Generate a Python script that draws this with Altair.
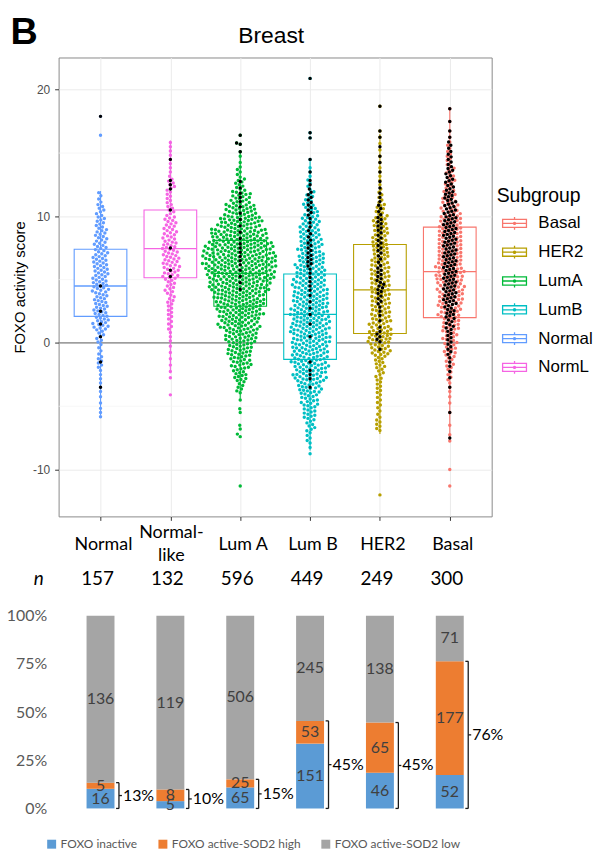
import math
import pandas as pd
import altair as alt

# ---------------- data: top panel (FOXO activity score) ----------------
groups = ["Normal", "NormL", "LumA", "LumB", "HER2", "Basal"]
legend_order = ["Basal", "HER2", "LumA", "LumB", "Normal", "NormL"]
legend_colors = ["#F8766D", "#B79F00", "#00BA38", "#00BFC4", "#619CFF", "#F564E3"]

# lower edges of 1-unit score bins, -13 ... 20
bin_lo = list(range(-13, 21))

# number of samples per score bin, outliers listed separately
cnt_normal = [0,0,0,0,0,0,0,3,2,3,3,6,4,7,14,14,13,15,14,14,12,11,9,7,4,0,0,0,0,0,0,0,0,0]
cnt_norml  = [0,0,0,0,0,0,0,0,0,0,2,2,2,3,5,6,7,9,14,15,14,12,11,7,6,7,3,3,3,0,0,0,0,0]
cnt_luma   = [0,0,0,0,0,0,0,0,1,7,13,18,22,28,34,40,45,52,59,62,58,48,38,27,17,9,5,2,0,0,0,0,0,0]
cnt_lumb   = [0,0,0,0,2,5,8,12,15,21,28,30,31,33,34,33,31,29,26,24,21,19,16,12,8,4,3,1,0,0,0,0,0,0]
cnt_her2   = [0,0,0,0,0,0,6,4,5,6,7,10,17,21,18,17,17,17,17,16,16,14,13,9,5,3,3,2,2,2,0,0,0,0]
cnt_basal  = [0,0,0,0,0,2,1,1,2,3,5,8,11,13,16,19,22,23,24,23,23,21,20,16,13,10,8,6,4,2,1,1,0,0]

# black dots (FOXO active - SOD2 high) per bin
blk_normal = [0,0,0,0,0,0,0,0,0,1,0,1,0,1,1,1,0,1,0,0,0,0,0,0,0,0,0,0,0,0,0,0,0,0]
blk_norml  = [0,0,0,0,0,0,0,0,0,0,0,0,0,0,0,0,0,0,2,0,1,0,0,1,0,3,0,1,0,0,0,0,0,0]
blk_luma   = [0,0,0,0,0,0,0,0,0,0,0,0,0,0,0,0,0,2,2,3,3,2,2,2,3,2,0,0,0,0,0,0,0,0]
blk_lumb   = [0,0,0,0,0,0,0,0,0,1,3,1,0,1,1,2,2,3,3,6,5,4,3,5,5,3,1,1,0,0,0,0,0,0]
blk_her2   = [0,0,0,0,0,0,0,0,0,0,0,0,1,5,2,3,5,7,6,4,5,5,6,4,3,2,1,2,1,2,0,0,0,0]
blk_basal  = [0,0,0,0,0,1,0,1,0,1,2,3,5,6,8,10,13,13,13,13,13,13,13,11,10,8,7,5,4,2,1,1,0,0]

# isolated points: (score, is SOD2-high)
ext_normal = [(17.9, True), (16.4, False)]
ext_norml  = [(-4.1, False)]
ext_luma   = [(16.4, True), (15.8, True), (15.7, True), (15.1, True), (-5.2, False), (-5.5, False),
              (-6.5, False), (-6.8, False), (-7.2, False), (-7.4, False), (-11.3, False)]
ext_lumb   = [(20.9, True), (16.6, True), (16.2, True)]
ext_her2   = [(18.7, True), (-12.0, False)]
ext_basal  = [(-10.0, False), (-11.3, False)]

# box plot statistics
box_lower = [-5.7, -2.4, -4.4, -8.5, -7.2, -7.8]
box_q1    = [2.1, 5.15, 2.9, -1.3, 0.75, 2.0]
box_med   = [4.5, 7.45, 5.5, 2.25, 4.2, 5.63]
box_q3    = [7.4, 10.5, 8.1, 5.45, 7.78, 9.15]
box_upper = [12.0, 16.0, 15.1, 14.5, 16.5, 18.6]

minor_grid = [-5, 5, 15]

# ---------------- data: bottom panel ----------------
bar_cats = ["Normal", "Normal-like", "Lum A", "Lum B", "HER2", "Basal"]
cat_line1 = ["Normal", "Normal-", "Lum A", "Lum B", "HER2", "Basal"]
cat_line2 = ["", "like", "", "", "", ""]
n_total = [157, 132, 596, 449, 249, 300]
inactive = [16, 5, 65, 151, 46, 52]
sod2_high = [5, 8, 25, 53, 65, 177]
sod2_low = [136, 119, 506, 245, 138, 71]
status_names = ["FOXO inactive", "FOXO active-SOD2 high", "FOXO active-SOD2 low"]
status_colors = ["#5B9BD5", "#ED7D31", "#A5A5A5"]

# ---------------- layout helpers ----------------
W, H = 436, 462
Y_DOM = [-13.7, 22.55]
X_DOM = [-0.6, 5.6]
PPU_Y = H / (Y_DOM[1] - Y_DOM[0])
PPU_X = W / (X_DOM[1] - X_DOM[0])
DOT = 3.85
LEG_TOP, LEG_STEP = 167, 29   # legend key rows, pixels below the panel top


def spread(counts):
    vals = []
    for lo, c in zip(bin_lo, counts):
        for i in range(c):
            vals.append(lo + (i + 0.5) / c)
    return vals


def swarm(vals, d=DOT):
    order = sorted(range(len(vals)), key=lambda i: vals[i])
    placed = []
    xs = [0.0] * len(vals)
    for i in order:
        y = vals[i] * PPU_Y
        near = []
        for py, px in reversed(placed):
            if y - py >= d:
                break
            near.append((py, px))
        cands = [0.0]
        for py, px in near:
            dx = math.sqrt(max(d * d - (y - py) ** 2, 0.0))
            cands += [px + dx, px - dx]
        cands.sort(key=lambda c: (abs(c), c))
        best = 0.0
        for c in cands:
            if all((c - px) ** 2 + (y - py) ** 2 >= d * d - 1e-6 for py, px in near):
                best = c
                break
        xs[i] = best
        placed.append((y, best))
    return xs


all_cnt = [cnt_normal, cnt_norml, cnt_luma, cnt_lumb, cnt_her2, cnt_basal]
all_blk = [blk_normal, blk_norml, blk_luma, blk_lumb, blk_her2, blk_basal]
all_ext = [ext_normal, ext_norml, ext_luma, ext_lumb, ext_her2, ext_basal]

pts_rows, blk_rows = [], []
for gi, g in enumerate(groups):
    vals = spread(all_cnt[gi]) + [v for v, _ in all_ext[gi]]
    for v, xo in zip(vals, swarm(vals)):
        pts_rows.append({"group": g, "v": v, "x": gi + xo / PPU_X})
    bvals = spread(all_blk[gi]) + [v for v, b in all_ext[gi] if b]
    for v, xo in zip(bvals, swarm(bvals)):
        blk_rows.append({"group": g, "v": v, "x": gi + xo / PPU_X})
pts_df = pd.DataFrame(pts_rows)
blk_df = pd.DataFrame(blk_rows)

box_df = pd.DataFrame({"group": groups, "gi": list(range(6)), "lower": box_lower, "q1": box_q1,
                       "med": box_med, "q3": box_q3, "upper": box_upper})

# ---------------- top chart ----------------
x_scale = alt.Scale(domain=X_DOM, nice=False, zero=False)
y_scale = alt.Scale(domain=Y_DOM, nice=False, zero=False)
x_axis = alt.Axis(values=[0, 1, 2, 3, 4, 5], labels=False, title=None, tickSize=4, tickColor="#333333",
                  domain=False, grid=True, gridColor="#ebebeb", gridWidth=1)
y_axis = alt.Axis(values=[-10, 0, 10, 20], labelExpr="'' + datum.value", title="FOXO activity score",
                  titleFontSize=15, titleFontWeight="normal", titleColor="black", titlePadding=5,
                  labelFontSize=12, labelColor="#4d4d4d", labelPadding=5, tickSize=4, tickColor="#333333",
                  domain=False, grid=True, gridColor="#ebebeb", gridWidth=1)
color_scale = alt.Scale(domain=legend_order, range=legend_colors)

box_icon = ("M-1,-0.34H1V0.34H-1Z M-1,0H1 M0,-0.34V-0.54 M0,0.34V0.54 "
            "M-0.09,0A0.09,0.09,0,1,0,0.09,0A0.09,0.09,0,1,0,-0.09,0")

minor = alt.Chart(pd.DataFrame({"v": minor_grid})).mark_rule(color="#f3f3f3", strokeWidth=0.7).encode(
    y=alt.Y("v:Q", scale=y_scale, axis=y_axis))
zero_line = alt.Chart(pd.DataFrame({"v": [0]})).mark_rule(color="#808080", strokeWidth=1.3).encode(
    y=alt.Y("v:Q", scale=y_scale, axis=y_axis))

box_base = alt.Chart(box_df).transform_calculate(xl="datum.gi - 0.377", xr="datum.gi + 0.377")
whisk = box_base.mark_rule(strokeWidth=1.1).encode(
    x=alt.X("gi:Q", scale=x_scale, axis=x_axis),
    y=alt.Y("lower:Q", scale=y_scale, axis=y_axis), y2="upper:Q",
    color=alt.Color("group:N", scale=color_scale, legend=None))
boxes = box_base.mark_rect(fill="white", strokeWidth=1.1).encode(
    x=alt.X("xl:Q", scale=x_scale, axis=x_axis), x2="xr:Q",
    y=alt.Y("q1:Q", scale=y_scale, axis=y_axis), y2="q3:Q",
    stroke=alt.Stroke("group:N", scale=color_scale, legend=None))
medians = box_base.mark_rule(strokeWidth=1.3).encode(
    x=alt.X("xl:Q", scale=x_scale, axis=x_axis), x2="xr:Q",
    y=alt.Y("med:Q", scale=y_scale, axis=y_axis),
    color=alt.Color("group:N", scale=color_scale, legend=None))

points = alt.Chart(pts_df).mark_circle(size=12, opacity=1).encode(
    x=alt.X("x:Q", scale=x_scale, axis=x_axis),
    y=alt.Y("v:Q", scale=y_scale, axis=y_axis),
    color=alt.Color("group:N", scale=color_scale, legend=None))
black_pts = alt.Chart(blk_df).mark_circle(size=12, opacity=1, color="black").encode(
    x=alt.X("x:Q", scale=x_scale, axis=x_axis),
    y=alt.Y("v:Q", scale=y_scale, axis=y_axis))

# legend "Subgroup" drawn with the colour scale: box-shaped keys + labels
leg_df = pd.DataFrame({"group": legend_order, "idx": list(range(len(legend_order)))})
leg_base = alt.Chart(leg_df).transform_calculate(
    ly=f"{Y_DOM[1]} - ({LEG_TOP} + datum.idx * {LEG_STEP}) / {PPU_Y}")
leg_keys = leg_base.mark_point(shape=box_icon, size=576, filled=False, strokeWidth=1.3, opacity=1).encode(
    x=alt.value(459), y=alt.Y("ly:Q", scale=y_scale, axis=y_axis),
    color=alt.Color("group:N", scale=color_scale, legend=None))
leg_labels = leg_base.mark_text(align="left", baseline="middle", fontSize=17, color="black").encode(
    x=alt.value(483), y=alt.Y("ly:Q", scale=y_scale, axis=y_axis), text="group:N")
leg_title = alt.Chart(pd.DataFrame({"t": ["Subgroup"]})).mark_text(
    align="left", baseline="middle", fontSize=19.5, color="black").encode(
    text="t:N", x=alt.value(441), y=alt.value(139))

title_txt = alt.Chart(pd.DataFrame({"t": ["Breast"]})).mark_text(
    fontSize=23, align="center", baseline="middle", color="black").encode(
    text="t:N", x=alt.value(214), y=alt.value(-22))
panel_txt = alt.Chart(pd.DataFrame({"t": ["B"]})).mark_text(
    fontSize=38, fontWeight="bold", align="left", baseline="alphabetic", color="black").encode(
    text="t:N", x=alt.value(-48.5), y=alt.value(-14))
anchor = alt.Chart(pd.DataFrame({"a": [0]})).mark_rule(strokeOpacity=0, strokeWidth=1).encode(
    x=alt.value(-58), y=alt.value(-54), y2=alt.value(-50))

top = alt.layer(minor, zero_line, whisk, boxes, medians, points, black_pts,
                leg_keys, leg_labels, leg_title, title_txt, panel_txt, anchor).properties(
    width=W, height=H, view=alt.ViewBackground(stroke="#8a8a8a", strokeWidth=1))

# ---------------- bottom chart ----------------
bar_rows = []
for i, c in enumerate(bar_cats):
    for k, (s, val) in enumerate(zip(status_names, [inactive[i], sod2_high[i], sod2_low[i]])):
        bar_rows.append({"cat": c, "status": s, "count": val, "order": k})
bar_df = pd.DataFrame(bar_rows)

br_df = pd.DataFrame({
    "cat": bar_cats,
    "p": [(a + b) / n for a, b, n in zip(inactive, sod2_high, n_total)],
})
br_df["zero"] = 0.0
br_df["mid"] = br_df["p"] / 2
br_df["label"] = [f"{round(100 * p)}%" for p in br_df["p"]]

lab_df = pd.DataFrame({"cat": bar_cats, "line1": cat_line1, "line2": cat_line2, "n": n_total})
lab_df["two"] = lab_df["line2"] != ""

xb_scale = alt.Scale(type="band", domain=bar_cats, paddingInner=0.6, paddingOuter=0.4)
xb = alt.X("cat:N", scale=xb_scale, axis=None, sort=bar_cats)
xb_right = alt.X("cat:N", scale=xb_scale, axis=None, sort=bar_cats, bandPosition=1)
yb_scale = alt.Scale(domain=[0, 1], nice=False)
yb_axis = alt.Axis(values=[0, 0.25, 0.5, 0.75, 1], format=".0%", title=None, domain=False, ticks=False,
                   grid=False, labelFontSize=16, labelFont="Lato", labelColor="#595959", labelPadding=12)
status_legend = alt.Legend(title=None, orient="none", legendX=-13, legendY=224, direction="horizontal",
                           symbolType="square", symbolSize=81, symbolStrokeWidth=0, labelFontSize=12,
                           labelFont="Lato", labelColor="#595959", columnPadding=19, labelOffset=3, padding=0)

base = (alt.Chart(bar_df)
        .transform_joinaggregate(total="sum(count)", groupby=["cat"])
        .transform_calculate(frac="datum.count / datum.total")
        .transform_stack(stack="frac", groupby=["cat"], as_=["y0", "y1"],
                         sort=[alt.SortField("order", order="ascending")])
        .transform_calculate(mid="(datum.y0 + datum.y1) / 2"))

bars = base.mark_bar().encode(
    x=xb, y=alt.Y("y0:Q", scale=yb_scale, axis=yb_axis), y2="y1:Q",
    color=alt.Color("status:N", scale=alt.Scale(domain=status_names, range=status_colors),
                    legend=status_legend, sort=status_names))
seg_text = base.mark_text(fontSize=16, font="Lato", color="#404040", baseline="middle").encode(
    x=xb, y=alt.Y("mid:Q", scale=yb_scale, axis=yb_axis), text="count:Q")

hline = "M-1,0H1"
br = alt.Chart(br_df)
br_vert = br.mark_rule(xOffset=4.5, strokeWidth=1.3, color="#1a1a1a").encode(
    x=xb_right, y=alt.Y("zero:Q", scale=yb_scale, axis=yb_axis), y2="p:Q")
br_top = br.mark_point(shape=hline, size=9, filled=False, strokeWidth=1.3, color="#1a1a1a", opacity=1,
                       xOffset=3.1).encode(x=xb_right, y=alt.Y("p:Q", scale=yb_scale, axis=yb_axis))
br_bot = br.mark_point(shape=hline, size=9, filled=False, strokeWidth=1.3, color="#1a1a1a", opacity=1,
                       xOffset=3.1).encode(x=xb_right, y=alt.Y("zero:Q", scale=yb_scale, axis=yb_axis))
br_mid = br.mark_point(shape=hline, size=9, filled=False, strokeWidth=1.3, color="#1a1a1a", opacity=1,
                       xOffset=6).encode(x=xb_right, y=alt.Y("mid:Q", scale=yb_scale, axis=yb_axis))
br_txt = br.mark_text(xOffset=8.5, align="left", baseline="middle", fontSize=16, font="Lato", color="black").encode(
    x=xb_right, y=alt.Y("mid:Q", scale=yb_scale, axis=yb_axis), text="label:N")

lab = alt.Chart(lab_df)
cat_one = lab.transform_filter("!datum.two").mark_text(
    fontSize=18, font="Lato", color="black", baseline="middle", dx=3).encode(
    x=xb, y=alt.value(-71), text="line1:N")
cat_two_a = lab.transform_filter("datum.two").mark_text(
    fontSize=18, font="Lato", color="black", baseline="middle", dx=1).encode(
    x=xb, y=alt.value(-83), text="line1:N")
cat_two_b = lab.transform_filter("datum.two").mark_text(
    fontSize=18, font="Lato", color="black", baseline="middle", dx=1).encode(
    x=xb, y=alt.value(-60), text="line2:N")
n_txt = lab.mark_text(fontSize=19, font="Lato", color="black", baseline="middle", dx=-3).encode(
    x=xb, y=alt.value(-37), text="n:Q")
n_lbl = alt.Chart(pd.DataFrame({"t": ["n"]})).mark_text(
    fontSize=19, font="Lato", fontStyle="italic", color="black", baseline="middle", align="center").encode(
    text="t:N", x=alt.value(-20), y=alt.value(-37))

bottom = alt.layer(bars, seg_text, br_vert, br_top, br_bot, br_mid, br_txt,
                   cat_one, cat_two_a, cat_two_b, n_txt, n_lbl).properties(
    width=W, height=194, view=alt.ViewBackground(stroke="transparent"))

chart = (alt.vconcat(top, bottom, spacing=100, bounds="flush")
         .resolve_scale(color="independent", stroke="independent")
         .resolve_legend(color="independent")
         .properties(padding=0)
         .configure(font="Liberation Sans")
         .configure_view(stroke="transparent"))

chart.save("out.html", embed_options={"renderer": "svg", "actions": False})
